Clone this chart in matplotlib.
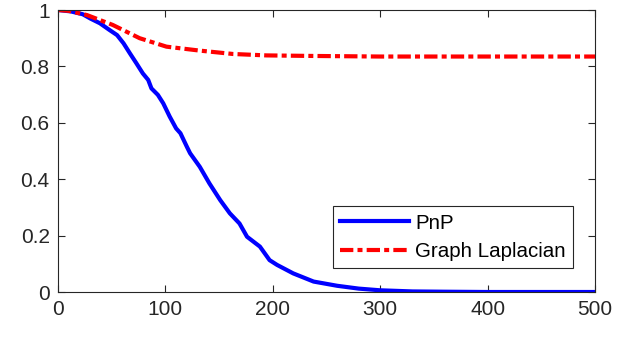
import matplotlib.pyplot as plt

plt.rcParams['font.family'] = ['Liberation Sans', 'DejaVu Sans']

# --- 데이터 ---
pnp_x = [0, 12, 23, 30, 39, 48, 55, 61, 67, 73, 79, 84, 87, 93, 98, 104, 110,
         114, 120, 123, 132, 141, 151, 160, 169, 176, 188, 197, 204, 219, 238,
         260, 280, 300, 330, 360, 400, 450, 500]
pnp_y = [1.0, 0.995, 0.985, 0.970, 0.953, 0.929, 0.911, 0.882, 0.846, 0.811,
         0.775, 0.752, 0.722, 0.699, 0.669, 0.622, 0.580, 0.563, 0.515, 0.492,
         0.444, 0.385, 0.326, 0.279, 0.243, 0.196, 0.161, 0.113, 0.096, 0.066,
         0.037, 0.022, 0.012, 0.006, 0.002, 0.001, 0.0, 0.0, 0.0]

gl_x = [0, 10, 27, 51, 76, 101, 132, 163, 194, 238, 300, 400, 500]
gl_y = [1.0, 0.997, 0.982, 0.947, 0.90, 0.870, 0.856, 0.844, 0.839, 0.837,
        0.835, 0.835, 0.835]

x_ticks = [0, 100, 200, 300, 400, 500]
y_ticks = [0, 0.2, 0.4, 0.6, 0.8, 1]

fig = plt.figure(figsize=(6.38, 3.37), dpi=100)
ax = fig.add_axes([58 / 638, 1 - 292 / 337, 537 / 638, 282 / 337])

ax.plot(pnp_x, pnp_y, color='#0000ff', lw=3.0, label='PnP')
ax.plot(gl_x, gl_y, color='#ff0000', lw=3.0, dashes=(3.2, 1.0, 1.2, 1.0),
        dash_capstyle='butt', label='Graph Laplacian')

ax.set_xlim(0, 500)
ax.set_ylim(0, 1)
ax.set_xticks(x_ticks)
ax.set_yticks(y_ticks)
ax.set_yticklabels(['0', '0.2', '0.4', '0.6', '0.8', '1'])

ax.tick_params(direction='in', top=True, right=True, labelsize=15,
               colors='#262626', length=5, width=0.8, pad=6)
for s in ax.spines.values():
    s.set_color('#262626')
    s.set_linewidth(0.8)

leg = ax.legend(loc='lower right', bbox_to_anchor=(515 / 537, 24 / 282),
                fontsize=14.8, fancybox=False, edgecolor='#262626',
                framealpha=1, handlelength=3.35, borderpad=0.35,
                labelspacing=0.45, handletextpad=0.3, borderaxespad=0)
leg.get_frame().set_linewidth(0.8)

fig.savefig('out.png', dpi=100)
